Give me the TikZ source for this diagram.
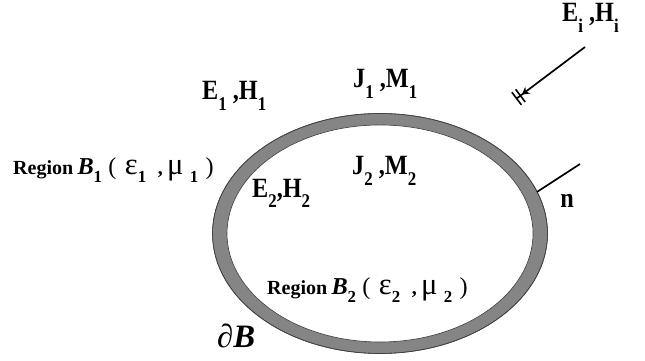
\documentclass[tikz,border=0pt]{standalone}
\usepackage{fontspec}
\setmainfont{Liberation Serif}
\usetikzlibrary{arrows.meta,calc}
\newcommand{\lo}[1]{\raisebox{-0.38em}{\fontsize{16}{16}\selectfont\bfseries #1}}
\newcommand{\regionlbl}[1]{Region\hspace{4pt}{\fontsize{23}{23}\selectfont\itshape B}\lo{#1}\hspace{6pt}{\mdseries\fontsize{23}{23}\selectfont(}\hspace{8pt}{\mdseries\fontsize{29}{29}\selectfont ε}\lo{#1}\hspace{11pt},\hspace{4pt}{\mdseries\fontsize{29}{29}\selectfont μ}\hspace{6pt}\lo{#1}\hspace{7pt}{\mdseries\fontsize{23}{23}\selectfont)}}

\begin{document}
\begin{tikzpicture}[
  lbl/.style={font=\fontsize{23}{24}\selectfont\bfseries, inner sep=0pt, anchor=base west, yscale=1.15, transform shape},
  region/.style={font=\fontsize{19}{20}\selectfont\bfseries, inner sep=0pt, anchor=base west},
  ring/.style={fill=black!48, draw=black!75, line width=0.6pt},
  hole/.style={fill=white, draw=black!75, line width=0.6pt},
  wave/.style={line width=1.6pt, -{Stealth[length=7pt,width=8pt,sep=1pt] Bar[width=15pt,line width=1.5pt,sep=3pt] Bar[width=15pt,line width=1.5pt]}},
  normal/.style={line width=1.6pt}
]
  \useasboundingbox (0,0) rectangle (21.5,12);

  % Boundary of B
  \coordinate (c) at (12.667, 4.217);
  \fill[ring] (c) ellipse [x radius=5.583, y radius=4.0];
  \fill[hole] (c) ellipse [x radius=5.1, y radius=3.617];
  \draw[ring, fill=none] (c) ellipse [x radius=5.583, y radius=4.0];

  % Normal vector
  \coordinate (nfoot) at ($(c)+(20.3:5.583 and 4.0)$);
  \coordinate (ntip) at (19.333, 6.533);
  \draw[normal] (nfoot) -- (ntip);
  \node[lbl] (n) at (18.67, 5.1) {n};

  % Incident field
  \node[lbl] (inc) at (18.733, 11.267) {E\lo{i} ,H\lo{i}};
  \coordinate (wstart) at (19.5, 10.433);
  \coordinate (wend) at (17.2, 8.7);
  \draw[wave] (wstart) -- (wend);

  % Fields and currents
  \node[lbl] (out) at (6.733, 8.667) {E\lo{1} ,H\lo{1}};
  \node[lbl] (j1) at (11.767, 9.067) {J\lo{1} ,M\lo{1}};
  \node[lbl] (j2) at (11.733, 6.167) {J\lo{2} ,M\lo{2}};
  \node[lbl] (in) at (8.4, 5.433) {E\lo{2},H\lo{2}};

  % Regions
  \node[region] (b1) at (0.433, 6.167) {\regionlbl{1}};
  \node[region] (b2) at (8.9, 2.167) {\regionlbl{2}};
  \node[inner sep=0pt, anchor=base west, font=\fontsize{31}{32}\selectfont] (db) at (7.233, 0.433) {∂\textbf{\textit{B}}};
\end{tikzpicture}
\end{document}
